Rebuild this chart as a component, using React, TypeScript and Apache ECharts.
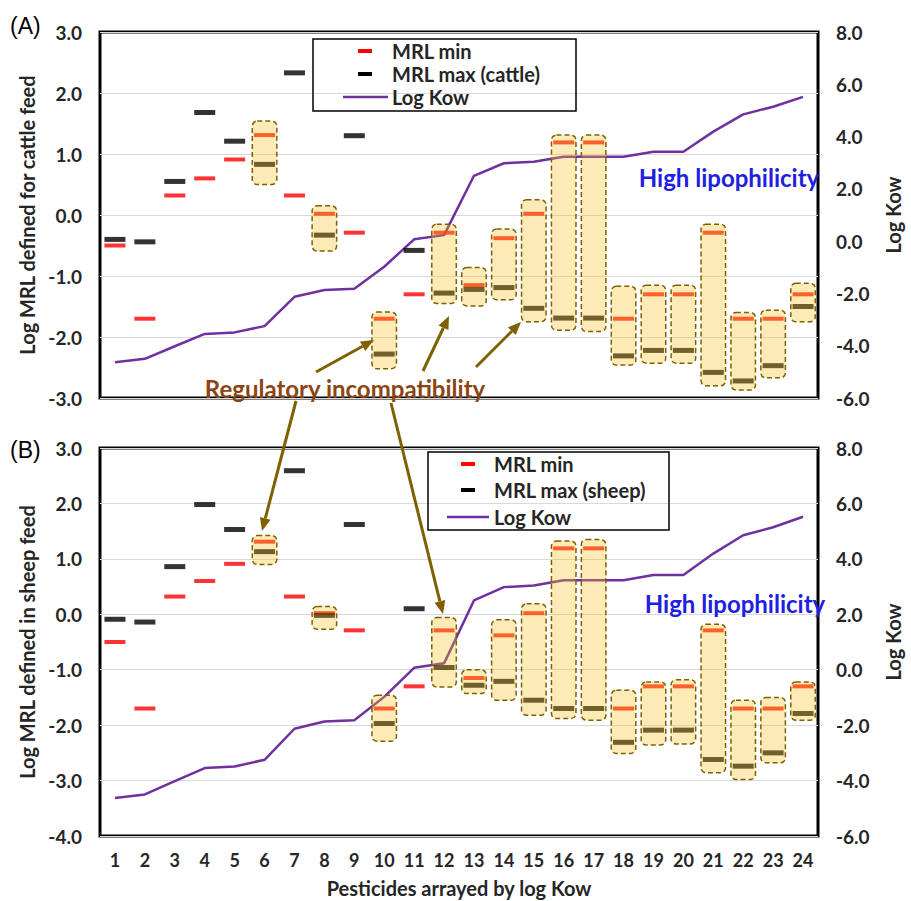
import React, { useEffect, useRef } from 'react';
import * as echarts from 'echarts';

const categories = ['1', '2', '3', '4', '5', '6', '7', '8', '9', '10', '11', '12', '13', '14', '15', '16', '17', '18', '19', '20', '21', '22', '23', '24'];

const mrlMin = [-0.5, -1.7, 0.32, 0.6, 0.91, 1.31, 0.32, 0.02, -0.29, -1.7, -1.3, -0.29, -1.15, -0.38, 0.02, 1.19, 1.19, -1.7, -1.3, -1.3, -0.29, -1.7, -1.7, -1.3];
const mrlMaxCattle = [-0.4, -0.44, 0.55, 1.68, 1.21, 0.83, 2.33, -0.33, 1.3, -2.28, -0.58, -1.28, -1.22, -1.19, -1.53, -1.69, -1.69, -2.31, -2.22, -2.22, -2.58, -2.72, -2.47, -1.5];
const mrlMaxSheep = [-0.09, -0.14, 0.86, 1.98, 1.53, 1.13, 2.59, -0.02, 1.62, -1.97, 0.1, -0.96, -1.28, -1.21, -1.55, -1.7, -1.7, -2.31, -2.09, -2.09, -2.62, -2.74, -2.5, -1.79];
const logKow = [-4.63, -4.5, -4.02, -3.55, -3.49, -3.25, -2.13, -1.87, -1.82, -0.98, 0.07, 0.23, 2.5, 2.98, 3.04, 3.23, 3.23, 3.23, 3.42, 3.42, 4.19, 4.85, 5.14, 5.52];

// highlighted ranges: [category index, top, bottom]
const boxesCattle = [
  [5, 1.54, 0.5], [7, 0.15, -0.59], [9, -1.59, -2.52], [11, -0.15, -1.45], [12, -0.86, -1.49],
  [13, -0.23, -1.39], [14, 0.25, -1.75], [15, 1.31, -1.89], [16, 1.31, -1.91], [17, -1.17, -2.46],
  [18, -1.15, -2.43], [19, -1.15, -2.43], [20, -0.15, -2.8], [21, -1.6, -2.87], [22, -1.56, -2.67],
  [23, -1.12, -1.75],
];
const boxesSheep = [
  [5, 1.42, 0.9], [7, 0.14, -0.27], [9, -1.46, -2.29], [11, -0.06, -1.31], [12, -1.0, -1.43],
  [13, -0.1, -1.55], [14, 0.19, -1.82], [15, 1.32, -1.88], [16, 1.35, -1.91], [17, -1.37, -2.51],
  [18, -1.22, -2.36], [19, -1.18, -2.34], [20, -0.18, -2.86], [21, -1.55, -2.98], [22, -1.5, -2.68],
  [23, -1.22, -1.91],
];

const FONT = 'Lato, "Open Sans", sans-serif';
const RED = '#FF0000';
const BLACK = '#000000';
const PURPLE = '#7030A0';
const ARROW = '#7F6000';
const LABEL = '#262626';

const boxRender = (_params: any, api: any) => {
  const x = api.value(0);
  const p1 = api.coord([x, api.value(1)]);
  const p2 = api.coord([x, api.value(2)]);
  const band = api.size([1, 0])[0];
  const w = band * 0.82;
  return {
    type: 'rect',
    shape: { x: p1[0] - w / 2, y: p1[1], width: w, height: p2[1] - p1[1], r: 5 },
    style: { fill: 'rgba(247,193,27,0.32)', stroke: ARROW, lineWidth: 1.5, lineDash: [5, 3] },
  };
};

function arrow(x1: number, y1: number, x2: number, y2: number) {
  const dx = x2 - x1, dy = y2 - y1;
  const len = Math.hypot(dx, dy);
  const ux = dx / len, uy = dy / len;
  const L = 13, W = 11;
  const bx = x2 - ux * L, by = y2 - uy * L;
  return [
    { type: 'line', z: 100, shape: { x1, y1, x2: bx, y2: by }, style: { stroke: ARROW, lineWidth: 3 } },
    {
      type: 'polygon', z: 100,
      shape: { points: [[x2, y2], [bx - (uy * W) / 2, by + (ux * W) / 2], [bx + (uy * W) / 2, by - (ux * W) / 2]] },
      style: { fill: ARROW },
    },
  ];
}

function txt(text: string, x: number, y: number, font: string, fill: string, align = 'left') {
  return {
    type: 'text', z: 100, x, y,
    style: { text, font, fill, textAlign: align, textVerticalAlign: 'middle', align, verticalAlign: 'middle' },
  };
}

function legend(x: number, y: number, w: number, h: number, dashX: number, textX: number, rows: number[], lineX1: number, lineX2: number, maxLabel: string) {
  const f = `bold 20px ${FONT}`;
  return [
    { type: 'rect', z: 100, shape: { x, y, width: w, height: h }, style: { fill: 'none', stroke: '#000', lineWidth: 1.5 } },
    { type: 'rect', z: 100, shape: { x: dashX - 7, y: rows[0] - 2, width: 14, height: 4 }, style: { fill: RED } },
    txt('MRL min', textX, rows[0], f, LABEL),
    { type: 'rect', z: 100, shape: { x: dashX - 7, y: rows[1] - 2, width: 14, height: 4 }, style: { fill: BLACK } },
    txt(maxLabel, textX, rows[1], f, LABEL),
    { type: 'line', z: 100, shape: { x1: lineX1, y1: rows[2], x2: lineX2, y2: rows[2] }, style: { stroke: PURPLE, lineWidth: 2.5 } },
    txt('Log Kow', textX, rows[2], f, LABEL),
  ];
}

const yLabelStyle = { color: LABEL, fontFamily: FONT, fontWeight: 'bold' as const, fontSize: 19 };
const xLabelStyle = { color: LABEL, fontFamily: FONT, fontWeight: 'bold' as const, fontSize: 18 };
const nameStyle = { color: LABEL, fontFamily: FONT, fontWeight: 'bold' as const, fontSize: 20 };
const fmt = (v: number) => v.toFixed(1);

export default function App() {
  const ref = useRef<HTMLDivElement>(null);
  useEffect(() => {
    document.body.style.margin = '0';
    if (!ref.current) return;
    const chart = echarts.init(ref.current, undefined, { renderer: 'svg' });
    const yBase = (gridIndex: number, min: number, max: number, interval: number, position: string, name: string, gap: number, split: boolean) => ({
      type: 'value', gridIndex, min, max, interval, position,
      axisLine: { show: false }, axisTick: { show: false },
      axisLabel: { ...yLabelStyle, formatter: fmt, margin: 18 },
      splitLine: { show: split, lineStyle: { color: '#D9D9D9', width: 1 } },
      name, nameLocation: 'middle', nameRotate: 90, nameGap: gap, nameTextStyle: nameStyle,
    });
    const option: any = {
      animation: false,
      backgroundColor: '#fff',
      grid: [
        { left: 100, top: 32, width: 733, height: 366, show: true, borderColor: '#000', borderWidth: 3 },
        { left: 100, top: 448, width: 735, height: 388, show: true, borderColor: '#000', borderWidth: 3 },
      ],
      xAxis: [
        { type: 'category', gridIndex: 0, data: categories, axisLabel: { show: false }, axisTick: { show: false }, axisLine: { show: false } },
        {
          type: 'category', gridIndex: 1, data: categories,
          axisLabel: { ...xLabelStyle, margin: 15 }, axisTick: { show: false }, axisLine: { show: false },
          name: 'Pesticides arrayed by log Kow', nameLocation: 'middle', nameGap: 42, nameTextStyle: nameStyle,
        },
      ],
      yAxis: [
        yBase(0, -3, 3, 1, 'left', 'Log MRL defined for cattle feed', 56, true),
        yBase(0, -6, 8, 2, 'right', 'Log Kow', 65, false),
        yBase(1, -4, 3, 1, 'left', 'Log MRL defined in sheep feed', 56, true),
        yBase(1, -6, 8, 2, 'right', 'Log Kow', 65, false),
      ],
      series: [
        { name: 'Log Kow', type: 'line', xAxisIndex: 0, yAxisIndex: 1, data: logKow, symbol: 'none', z: 2, lineStyle: { color: PURPLE, width: 2.5 } },
        { name: 'MRL min', type: 'scatter', xAxisIndex: 0, yAxisIndex: 0, data: mrlMin, symbol: 'rect', symbolSize: [21, 4], z: 3, itemStyle: { color: RED } },
        { name: 'MRL max (cattle)', type: 'scatter', xAxisIndex: 0, yAxisIndex: 0, data: mrlMaxCattle, symbol: 'rect', symbolSize: [21, 5], z: 3, itemStyle: { color: BLACK } },
        { type: 'custom', xAxisIndex: 0, yAxisIndex: 0, data: boxesCattle, renderItem: boxRender, encode: { x: 0, y: [1, 2] }, z: 4, silent: true },

        { name: 'Log Kow', type: 'line', xAxisIndex: 1, yAxisIndex: 3, data: logKow, symbol: 'none', z: 2, lineStyle: { color: PURPLE, width: 2.5 } },
        { name: 'MRL min', type: 'scatter', xAxisIndex: 1, yAxisIndex: 2, data: mrlMin, symbol: 'rect', symbolSize: [21, 4], z: 3, itemStyle: { color: RED } },
        { name: 'MRL max (sheep)', type: 'scatter', xAxisIndex: 1, yAxisIndex: 2, data: mrlMaxSheep, symbol: 'rect', symbolSize: [21, 5], z: 3, itemStyle: { color: BLACK } },
        { type: 'custom', xAxisIndex: 1, yAxisIndex: 2, data: boxesSheep, renderItem: boxRender, encode: { x: 0, y: [1, 2] }, z: 4, silent: true },
      ],
      graphic: [
        txt('(A)', 10, 26, `23px "Liberation Sans", Arial, sans-serif`, '#000'),
        txt('(B)', 10, 450, `23px "Liberation Sans", Arial, sans-serif`, '#000'),
        txt('High lipophilicity', 729, 177, `bold 24px ${FONT}`, '#2020E0', 'center'),
        txt('High lipophilicity', 735, 603, `bold 24px ${FONT}`, '#2020E0', 'center'),
        txt('Regulatory incompatibility', 345, 388, `bold 24px ${FONT}`, '#8B4513', 'center'),
        ...legend(313, 39, 263, 72, 365, 392, [51, 74, 97], 343, 388, 'MRL max (cattle)'),
        ...legend(428, 452, 241, 78, 468, 494, [464, 490, 517], 447, 489, 'MRL max (sheep)'),
        ...arrow(316, 372, 374, 340),
        ...arrow(423, 371, 449, 316),
        ...arrow(476, 367, 521, 322),
        ...arrow(296, 401, 262, 531),
        ...arrow(391, 403, 443, 614),
      ],
    };
    chart.setOption(option);
    return () => chart.dispose();
  }, []);
  return <div ref={ref} style={{ width: 911, height: 901 }} />;
}
